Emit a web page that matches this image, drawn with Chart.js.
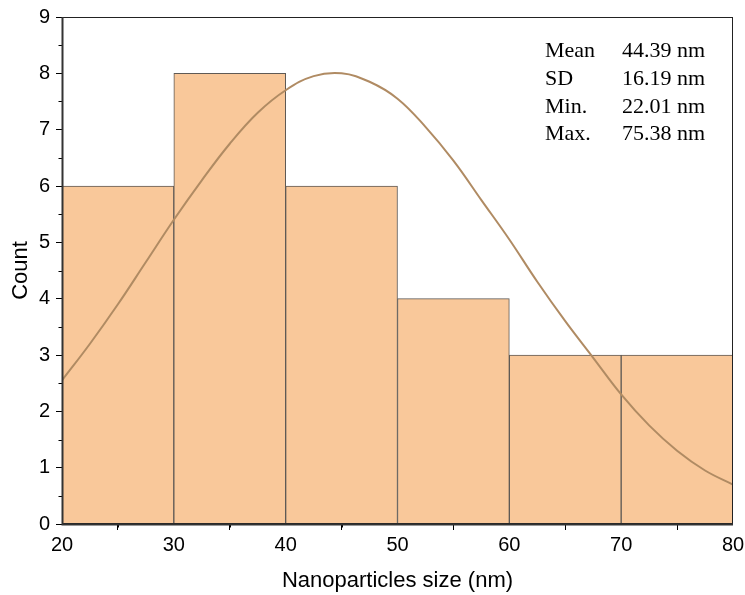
<!DOCTYPE html>
<html>
<head>
<meta charset="utf-8">
<script src="https://cdn.jsdelivr.net/npm/chart.js@4.4.1/dist/chart.umd.min.js"></script>
<style>
  html, body { margin: 0; padding: 0; background: #fff; }
  #wrap { width: 745px; height: 595px; position: relative; }
</style>
</head>
<body>
<div id="wrap"><canvas id="histChart"></canvas></div>
<script>
// histogram bins (centre of each 10 nm bin) and counts
const binCentres = [25, 35, 45, 55, 65, 75];
const binCounts = [6, 8, 6, 4, 3, 3];

// fitted curve, values
const curveX = [20, 22.5, 25, 27.5, 30, 32.5, 35, 37.5, 40, 42.5, 45, 47.5, 50,
                52.5, 55, 57.5, 60, 62.5, 65, 67.5, 70, 72.5, 75, 77.5, 80];
const curveY = [2.55, 3.2, 3.9, 4.65, 5.4, 6.1, 6.75, 7.3, 7.7, 7.95, 8.0, 7.85, 7.55,
                7.05, 6.45, 5.75, 5.05, 4.3, 3.6, 2.95, 2.3, 1.75, 1.3, 0.95, 0.7];

// axis ticks
const xMajorTicks = [20, 30, 40, 50, 60, 70, 80];
const xMinorTicks = [25, 35, 45, 55, 65, 75];
const yMajorTicks = [0, 1, 2, 3, 4, 5, 6, 7, 8, 9];
const yMinorTicks = [0.5, 1.5, 2.5, 3.5, 4.5, 5.5, 6.5, 7.5, 8.5];

// stats box
const statNames = ['Mean', 'SD', 'Min.', 'Max.'];
const statValues = ['44.39 nm', '16.19 nm', '22.01 nm', '75.38 nm'];

const sansFont = "'Liberation Sans', Arial, sans-serif";
const serifFont = "'Liberation Serif', 'Times New Roman', serif";

// frame, minor ticks and the stats text
const framePlugin = {
    id: 'frame',
    afterDatasetsDraw(chart) {
        const ctx = chart.ctx;
        const a = chart.chartArea;
        const xs = chart.scales.x;
        const ys = chart.scales.y;
        ctx.save();
        ctx.strokeStyle = '#000';
        ctx.lineWidth = 1;
        ctx.beginPath();
        xMinorTicks.forEach(v => {
            const px = Math.round(xs.getPixelForValue(v)) + 0.5;
            ctx.moveTo(px, a.bottom);
            ctx.lineTo(px, a.bottom + 3.5);
        });
        yMinorTicks.forEach(v => {
            const py = Math.round(ys.getPixelForValue(v)) + 0.5;
            ctx.moveTo(a.left, py);
            ctx.lineTo(a.left - 3.5, py);
        });
        ctx.stroke();

        ctx.lineWidth = 1;
        ctx.strokeStyle = '#222';
        ctx.strokeRect(a.left + 0.5, a.top + 0.5, a.right - a.left - 1, a.bottom - a.top - 1);
        ctx.lineWidth = 2;
        ctx.strokeStyle = '#333';
        ctx.beginPath();
        ctx.moveTo(a.left + 0.5, a.top);
        ctx.lineTo(a.left + 0.5, a.bottom + 0.5);
        ctx.lineTo(a.right, a.bottom + 0.5);
        ctx.stroke();

        ctx.fillStyle = '#000';
        ctx.font = '22px ' + serifFont;
        ctx.textBaseline = 'alphabetic';
        statNames.forEach((name, i) => {
            const y = a.top + 40 + i * 27.8;
            ctx.textAlign = 'left';
            ctx.fillText(name, a.right - 188, y);
            ctx.textAlign = 'right';
            ctx.fillText(statValues[i], a.right - 28, y);
        });
        ctx.restore();
    }
};

new Chart(document.getElementById('histChart'), {
    type: 'bar',
    data: {
        datasets: [{
            type: 'line',
            label: 'Fit',
            data: curveX.map((x, i) => ({ x: x, y: curveY[i] })),
            borderColor: '#B08B63',
            borderWidth: 2,
            pointRadius: 0,
            tension: 0.4,
            fill: false,
            order: 0
        }, {
            label: 'Count',
            data: binCentres.map((x, i) => ({ x: x, y: binCounts[i] })),
            backgroundColor: '#F9C89A',
            borderColor: '#5f5a55',
            borderWidth: 1,
            borderSkipped: 'start',
            barPercentage: 1,
            categoryPercentage: 1,
            order: 1
        }]
    },
    options: {
        responsive: true,
        maintainAspectRatio: false,
        animation: false,
        layout: { padding: { top: 17, right: 12, left: 0, bottom: 0 } },
        plugins: {
            legend: { display: false },
            tooltip: { enabled: false }
        },
        scales: {
            x: {
                type: 'linear',
                min: 20,
                max: 80,
                offset: false,
                afterFit: s => { s.height = 71; s.paddingLeft = 0; s.paddingRight = 0; },
                afterBuildTicks: s => { s.ticks = xMajorTicks.map(v => ({ value: v })); },
                grid: { drawOnChartArea: false, drawTicks: true, tickLength: 6, color: '#000', lineWidth: 1 },
                border: { display: false },
                ticks: { color: '#000', font: { family: sansFont, size: 20 }, padding: 3, maxRotation: 0 },
                title: {
                    display: true,
                    text: 'Nanoparticles size (nm)',
                    color: '#000',
                    font: { family: sansFont, size: 22 },
                    padding: { top: 0, bottom: 1 }
                }
            },
            y: {
                min: 0,
                max: 9,
                afterFit: s => { s.width = 62; s.paddingTop = 0; s.paddingBottom = 0; },
                afterBuildTicks: s => { s.ticks = yMajorTicks.map(v => ({ value: v })); },
                grid: { drawOnChartArea: false, drawTicks: true, tickLength: 6, color: '#000', lineWidth: 1 },
                border: { display: false },
                ticks: { color: '#000', font: { family: sansFont, size: 20 }, padding: 6 },
                title: {
                    display: true,
                    text: 'Count',
                    color: '#000',
                    font: { family: sansFont, size: 22 },
                    padding: { top: 8, bottom: 0 }
                }
            }
        }
    },
    plugins: [framePlugin]
});
</script>
</body>
</html>
